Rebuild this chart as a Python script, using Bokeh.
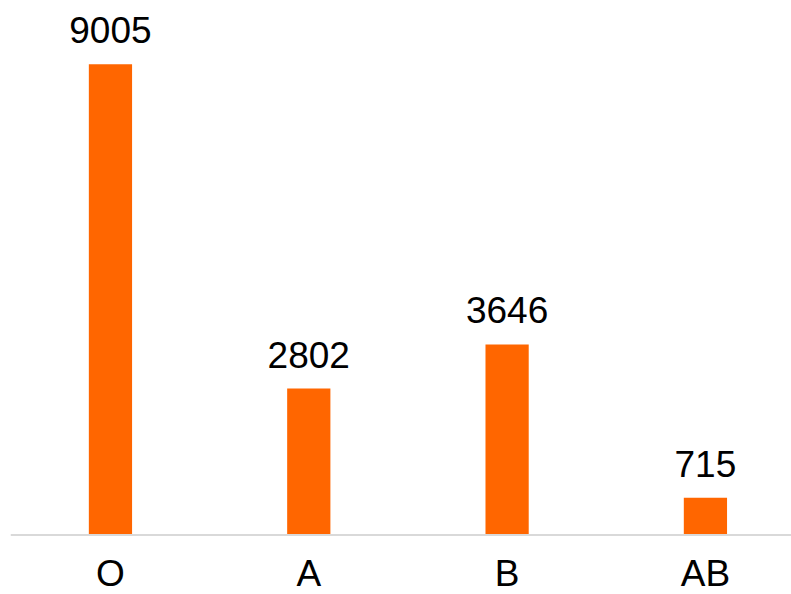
from bokeh.plotting import figure
from bokeh.models import ColumnDataSource, Range1d, Span, LabelSet
from bokeh.core.properties import value
from bokeh.embed import file_html
from bokeh.resources import INLINE

categories = ["O", "A", "B", "AB"]
counts = [9005, 2802, 3646, 715]
value_labels = [str(v) for v in counts]

xs = list(range(len(categories)))
src = ColumnDataSource(dict(x=xs, top=counts, cat=categories, lab=value_labels))

p = figure(width=791, height=594, output_backend="svg", toolbar_location=None,
           x_range=Range1d(-0.504, 3.434), y_range=Range1d(-1138, 10225),
           min_border_left=10, min_border_right=0, min_border_top=0, min_border_bottom=0)
p.axis.visible = False
p.grid.visible = False
p.outline_line_color = None
p.background_fill_color = "white"
p.border_fill_color = "white"

p.vbar(x="x", top="top", bottom=0, width=0.218, source=src,
       fill_color="#FF6600", line_color=None)

p.add_layout(Span(location=0, dimension="width", line_color="#d9d9d9", line_width=2))

font = value("Liberation Sans")
p.add_layout(LabelSet(x="x", y="top", text="lab", source=src, y_offset=21,
                      text_align="center", text_baseline="alphabetic",
                      text_font=font, text_font_size="37px", text_color="black"))
p.add_layout(LabelSet(x="x", y=0, text="cat", source=src, y_offset=-51,
                      text_align="center", text_baseline="alphabetic",
                      text_font=font, text_font_size="37px", text_color="black"))

open("out.html", "w").write(file_html(p, INLINE))
